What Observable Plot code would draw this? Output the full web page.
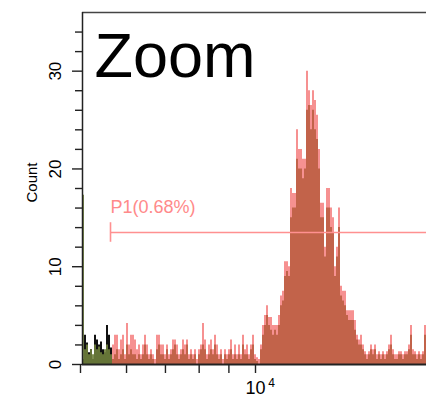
<!DOCTYPE html>
<html><head><meta charset="utf-8">
<script src="https://cdn.jsdelivr.net/npm/d3@7"></script>
<script src="https://cdn.jsdelivr.net/npm/@observablehq/plot@0.6"></script>
<style>body{margin:0;background:#fff;} #chart svg{display:block;}</style>
</head><body><div id="chart"></div>
<script>
// Histogram counts per display bin (bins equally spaced on the symlog axis)
const redCounts = [
0,0,0,0,0,0,0,0,0,0,
0,0,0,0,0,2,3,3,1.5,2.5,
3,1,4.2,2,3,3,2.5,1.5,2,1,
2,3,2,1,1.5,1,0.5,3,3,2,
2,1,2,1,1.5,2.5,2.5,2,1,1.5,
2.5,2,2.5,1,1.5,1,1.5,0.5,1.5,2,
4.2,2.5,1,2,2.5,1.5,3,2,1,1.5,
0.5,1.5,1,1.5,2.5,1,2,1,2,1,
3,1.5,2,1,2,3,1,0.7,0.5,2,
4,5,6,4.8,4.8,4,4,4,5,7,
7.5,10.5,10.5,10,18,17.5,17.5,24,22,22,
21,21,30,28,26.5,28,27,25.5,22,16.5,
16.5,12,18,18,16,15,10,12,16,8,
7.5,7.5,5.5,5.5,5.5,5.5,4.5,3,2.5,3,
2,1.3,1,1.3,2,1.5,2,1,1.3,1,
1.3,1,1.3,2,3,1.5,1,1,1.3,1.3,
1,1.3,1.3,2,4,1.5,1.3,1,1.3,1,
1.3,4
];
const greenCounts = [
17.3,1.5,2,1,1.5,1,2,1.5,1.8,1.2,
1,1.5,2,1.5,1,0.5,1,1.5,0.5,1,
1.5,0.5,2,1,1.5,1,1,0.5,1,0.5,
1,2,1,0.5,1,0.5,0,1.5,2,1,
1,0.5,1.5,0.5,1,1.5,2,1,0.5,1,
1.5,1,2,0.5,1,0.5,1,0,1,1.5,
2,1.5,0.5,1,1.5,1,2,1,0.5,1,
0,1,0.5,1,1.5,0.5,1,0.5,1,0.5,
2,1,1,0.5,1.5,2,0.5,0.3,0,1.5,
3,4,5,4,3.5,3,3.5,3,4,6,
6.5,9,9.5,9,15,16,16,21,20,20,
19,20,26,26.5,24,26,24,23,20,15,
15,11,16,16,14,13.5,9,11,14,7,
6.5,6,5,4.5,4.5,4.5,3.5,2.5,2,2,
1.5,1,0.5,1,1.5,1,1.5,0.5,1,0.5,
1,0.5,1,1.5,2,1,0.5,0.5,1,1,
0.5,1,1,1.5,3,1,1,0.5,1,0.5,
1,3
];
const blackCounts = [0.5,3,2.2,1.2,1.5,0.5,3,2.5,2,2.3,1.5,1.2,4,3,1.7,0];

const xTicks = [0, 2000, 4000, 6000, 8000, 10000];
const xTickLabels = {10000: "10"};
const yMajorTicks = [0, 10, 20, 30];
const yMinorTicks = [2,4,6,8,12,14,16,18,22,24,26,28,32,34];
const gateLabel = "P1(0.68%)";
const gateX1 = 1173, gateY = 13.5;
const titleText = "Zoom";
const yLabel = "Count";
const xMax = 29060, symConst = 10000, yMax = 36;
const nBins = redCounts.length;

const T = Math.log1p(xMax / symConst);
const edge = i => symConst * Math.expm1(i * T / nBins);
const toSteps = arr => {
  const pts = arr.map((c, i) => ({x: edge(i), y: c}));
  pts.push({x: edge(arr.length), y: arr[arr.length - 1]});
  return pts;
};

const FONT = "Liberation Sans, Arial, sans-serif";

const chart = Plot.plot({
  width: 426, height: 399,
  marginLeft: 82, marginRight: 0, marginTop: 12, marginBottom: 35,
  style: {fontFamily: FONT, fontSize: "16px", background: "#fff", overflow: "visible"},
  x: {type: "symlog", constant: symConst, domain: [0, xMax]},
  y: {domain: [0, yMax]},
  marks: [
    Plot.areaY(toSteps(blackCounts), {x: "x", y: "y", curve: "step-after", fill: "#111"}),
    Plot.areaY(toSteps(greenCounts), {x: "x", y: "y", curve: "step-after", fill: "#6f7f3c", fillOpacity: 0.9}),
    Plot.areaY(toSteps(redCounts), {x: "x", y: "y", curve: "step-after", fill: "#f04848", fillOpacity: 0.6}),
    Plot.ruleY([gateY], {x1: gateX1, x2: xMax, stroke: "#ff9090", strokeWidth: 1.6}),
    Plot.ruleX([gateX1], {y1: gateY - 1, y2: gateY + 1, stroke: "#ff9090", strokeWidth: 1.6}),
    Plot.text([gateLabel], {x: gateX1, y: gateY, text: d => d, textAnchor: "start", lineAnchor: "middle", dy: -25, fill: "#ff8a8a", fontSize: 18}),
    Plot.text([titleText], {frameAnchor: "top-left", text: d => d, textAnchor: "start", lineAnchor: "top", dx: 12, dy: 20, fontSize: 63, fill: "#000"}),
    Plot.ruleY([0], {stroke: "#222", strokeWidth: 2}),
    Plot.ruleY([yMax], {stroke: "#444", strokeWidth: 1.5}),
    Plot.ruleX([0], {stroke: "#222", strokeWidth: 1.5}),
    Plot.axisX({ticks: xTicks, tickSize: 9, tickPadding: 8, tickFormat: d => xTickLabels[d] ?? "", label: null, fontSize: 18, stroke: "#222", strokeWidth: 1.4, dx: -2}),
    Plot.text([10000], {x: d => d, frameAnchor: "bottom", text: () => "4", dx: 14, dy: 19, fontSize: 12, lineAnchor: "middle"}),
    Plot.axisY({ticks: yMajorTicks, tickSize: 10, tickFormat: () => "", label: null, stroke: "#222", strokeWidth: 1.4}),
    Plot.axisY({ticks: yMinorTicks, tickSize: 7, tickFormat: () => "", label: null, stroke: "#222", strokeWidth: 1.4}),
    Plot.text(yMajorTicks, {y: d => d, frameAnchor: "left", text: d => String(d), rotate: -90, dx: -27, textAnchor: "middle", lineAnchor: "middle", fontSize: 17}),
    Plot.text([yLabel], {frameAnchor: "left", text: d => d, rotate: -90, dx: -50, dy: -6, textAnchor: "middle", lineAnchor: "middle", fontSize: 15})
  ]
});
document.getElementById("chart").appendChild(chart);
</script>
</body></html>
